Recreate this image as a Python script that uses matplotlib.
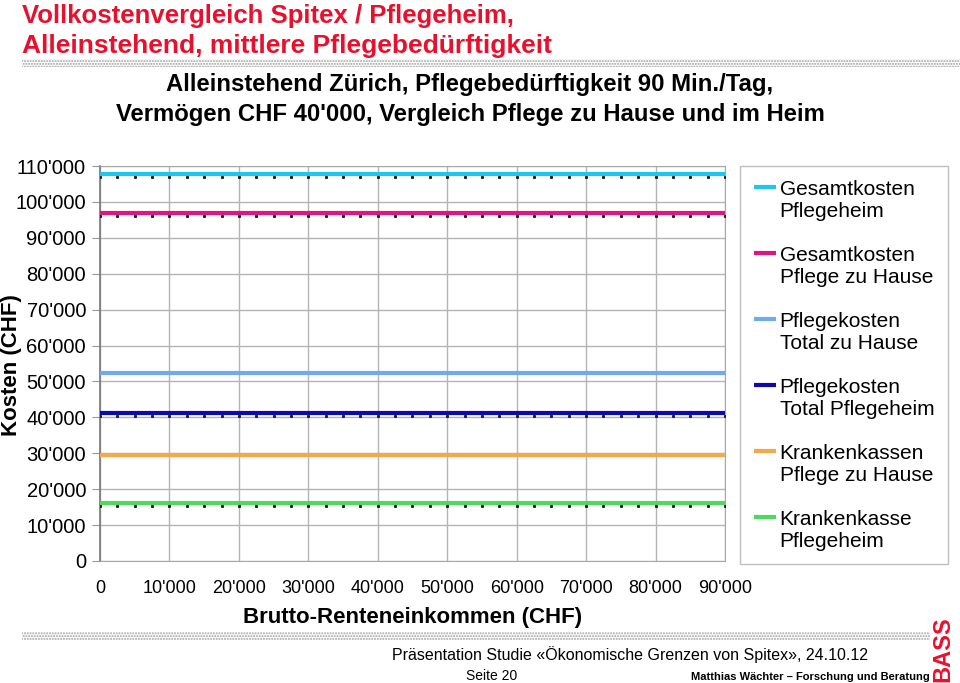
import matplotlib
matplotlib.use("Agg")
import matplotlib.pyplot as plt
import matplotlib.transforms as mtransforms
from matplotlib.patches import Rectangle
from matplotlib.ticker import FuncFormatter
from matplotlib.legend_handler import HandlerLine2D

# Einkommensstufen (CHF)
einkommen = [0, 2500, 5000, 7500, 10000, 12500, 15000, 17500, 20000, 22500,
             25000, 27500, 30000, 32500, 35000, 37500, 40000, 42500, 45000,
             47500, 50000, 52500, 55000, 57500, 60000, 62500, 65000, 67500,
             70000, 72500, 75000, 77500, 80000, 82500, 85000, 87500, 90000]

serien = ["Gesamtkosten\nPflegeheim", "Gesamtkosten\nPflege zu Hause",
          "Pflegekosten\nTotal zu Hause", "Pflegekosten\nTotal Pflegeheim",
          "Krankenkassen\nPflege zu Hause", "Krankenkasse\nPflegeheim"]
niveau = [107800, 96900, 52400, 41200, 29500, 16200]
farben = ["#1ec6ef", "#e0167e", "#6eaaf0", "#0a0ab0", "#f5a84a", "#4fd85c"]
mit_punkten = [True, True, False, True, False, True]

x_ticks = [0, 10000, 20000, 30000, 40000, 50000, 60000, 70000, 80000, 90000]
y_ticks = [0, 10000, 20000, 30000, 40000, 50000, 60000, 70000, 80000, 90000,
           100000, 110000]

plt.rcParams["font.family"] = ["Liberation Sans", "DejaVu Sans"]


def tausender(v, pos=None):
    return f"{int(v):,}".replace(",", "'")


class ObenHandler(HandlerLine2D):
    # Linie auf Höhe der ersten Textzeile setzen
    def create_artists(self, legend, orig_handle, xdescent, ydescent, width,
                       height, fontsize, trans):
        arts = super().create_artists(legend, orig_handle, xdescent, ydescent,
                                      width, height, fontsize, trans)
        for a in arts:
            a.set_ydata([y + fontsize * 0.62 for y in a.get_ydata()])
        return arts


fig = plt.figure(figsize=(9.6, 6.83), dpi=100)
ax = fig.add_axes([100 / 960, 1 - 561 / 683, 625 / 960, 395 / 683])

shift = mtransforms.offset_copy(ax.transData, fig=fig, x=0, y=-3, units="dots")
for name, wert, farbe, punkte in zip(serien, niveau, farben, mit_punkten):
    werte = [wert] * len(einkommen)
    ax.plot(einkommen, werte, color=farbe, lw=3, label=name, zorder=3,
            solid_capstyle="butt")
    if punkte:
        ax.plot(einkommen, werte, ls="none", marker="s", ms=1.2, color="#222222",
                transform=shift, zorder=4)

ax.set_xlim(0, 90000)
ax.set_ylim(0, 110000)
ax.set_xticks(x_ticks)
ax.set_yticks(y_ticks)
ax.xaxis.set_major_formatter(FuncFormatter(tausender))
ax.yaxis.set_major_formatter(FuncFormatter(tausender))
ax.tick_params(axis="y", labelsize=14.5, length=6, color="#999999", pad=4)
ax.tick_params(axis="x", length=0, pad=14, labelsize=13)
ax.grid(True, color="#b4b4b4", lw=1)
ax.set_axisbelow(True)
for s in ["top", "right", "bottom"]:
    ax.spines[s].set_color("#a8a8a8")
ax.spines["left"].set_color("#777777")
ax.spines["left"].set_linewidth(1.2)

ax.set_xlabel("Brutto-Renteneinkommen (CHF)", fontsize=16, fontweight="bold",
              labelpad=7)
fig.text(12 / 960, 1 - 365 / 683, "Kosten (CHF)", rotation=90, ha="center",
         va="center", fontsize=16, fontweight="bold")

leg = fig.legend(loc="upper left", bbox_to_anchor=(740 / 960, 1 - 166 / 683),
                 borderaxespad=0, fontsize=15, handlelength=1.1,
                 handletextpad=0.15, labelspacing=1.2, frameon=True,
                 fancybox=False, edgecolor="#b0b0b0", borderpad=0.65,
                 handler_map={matplotlib.lines.Line2D: ObenHandler()})
leg.get_frame().set_linewidth(1)
for t in leg.get_texts():
    t.set_linespacing(1.2)

# Titel
fig.text(22 / 960, 1 - 16 / 683, "Vollkostenvergleich Spitex / Pflegeheim,",
         color="#e8112d", fontsize=18.5, fontweight="bold", va="center")
fig.text(22 / 960, 1 - 46 / 683, "Alleinstehend, mittlere Pflegebedürftigkeit",
         color="#e8112d", fontsize=19, fontweight="bold", va="center")
fig.text(470 / 960, 1 - 84 / 683,
         "Alleinstehend Zürich, Pflegebedürftigkeit 90 Min./Tag,",
         fontsize=17.2, fontweight="bold", ha="center", va="center")
fig.text(470 / 960, 1 - 114 / 683,
         "Vermögen CHF 40'000, Vergleich Pflege zu Hause und im Heim",
         fontsize=17.2, fontweight="bold", ha="center", va="center")

# gepunktete Trennbänder
for x0, x1, y0 in [(22, 960, 59), (22, 930, 632)]:
    fig.patches.append(Rectangle((x0 / 960, 1 - (y0 + 8) / 683),
                                 (x1 - x0) / 960, 8 / 683,
                                 transform=fig.transFigure, facecolor="white",
                                 edgecolor="#a0a0a0", hatch="......", lw=0))

# Fusszeile
fig.text(868 / 960, 1 - 655 / 683,
         "Präsentation Studie «Ökonomische Grenzen von Spitex», 24.10.12",
         fontsize=11.5, ha="right", va="center")
fig.text(492 / 960, 1 - 676 / 683, "Seite 20", fontsize=10,
         ha="center", va="center")
fig.text(930 / 960, 1 - 677 / 683, "Matthias Wächter – Forschung und Beratung",
         fontsize=8, fontweight="bold", ha="right", va="center")
fig.text(943 / 960, 1 - 649 / 683, "BASS", color="#e8112d", fontsize=17,
         fontweight="bold", rotation=90, ha="center", va="center")

fig.savefig("out.png", dpi=100)
